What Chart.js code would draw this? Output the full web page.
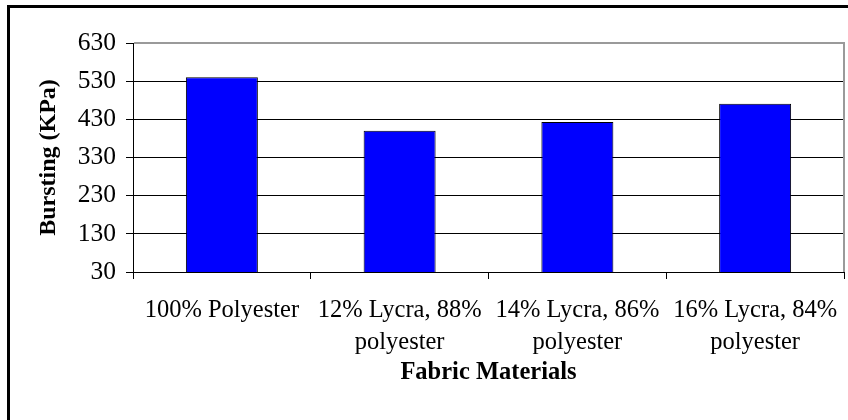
<!DOCTYPE html>
<html>
<head>
<meta charset="utf-8">
<script src="https://cdn.jsdelivr.net/npm/chart.js@4"></script>
<style>
  html, body { margin: 0; padding: 0; background: #fff; }
  #wrap { width: 848px; height: 420px; }
</style>
</head>
<body>
<div id="wrap"><canvas id="myChart" width="848" height="420"></canvas></div>
<script>
// data
const categories = [
  '100% Polyester',
  ['12% Lycra, 88%', 'polyester'],
  ['14% Lycra, 86%', 'polyester'],
  ['16% Lycra, 84%', 'polyester']
];
const bursting = [540, 400, 423, 471];
const yTicks = [30, 130, 230, 330, 430, 530, 630];

const serif = 'Liberation Serif, Times New Roman, serif';

// white page + black frame, and the grey plot-area border (top / right)
const framePlugin = {
  id: 'frame',
  beforeDraw(chart) {
    const ctx = chart.ctx;
    ctx.save();
    ctx.fillStyle = '#fff';
    ctx.fillRect(0, 0, chart.width, chart.height);
    ctx.strokeStyle = '#000';
    ctx.lineWidth = 3;
    ctx.strokeRect(8.5, 6.5, 900, 500);
    ctx.restore();
  },
  afterDraw(chart) {
    const a = chart.chartArea;
    const ctx = chart.ctx;
    ctx.save();
    ctx.strokeStyle = '#9a9a9a';
    ctx.lineWidth = 2;
    ctx.beginPath();
    ctx.moveTo(a.left + 1, a.top);
    ctx.lineTo(a.right, a.top);
    ctx.lineTo(a.right, a.bottom);
    ctx.stroke();
    ctx.restore();
  }
};

const ctx1 = document.getElementById('myChart').getContext('2d');
new Chart(ctx1, {
  type: 'bar',
  data: {
    labels: categories,
    datasets: [{
      label: 'Bursting',
      data: bursting,
      backgroundColor: '#0000ff',
      borderColor: '#000',
      borderWidth: 1,
      barPercentage: 0.405,
      categoryPercentage: 1
    }]
  },
  options: {
    responsive: false,
    animation: false,
    layout: { padding: { left: 8, top: 43, right: 4, bottom: 0 } },
    plugins: {
      legend: { display: false },
      tooltip: { enabled: false }
    },
    scales: {
      x: {
        afterFit: (s) => {
          s.height = 148;
          s.paddingLeft = 0;
          s.paddingRight = 0;
        },
        grid: {
          offset: true,
          drawOnChartArea: false,
          color: '#000',
          tickLength: 7
        },
        border: { color: '#000', width: 1 },
        ticks: {
          color: '#000',
          padding: 15,
          maxRotation: 0,
          autoSkip: false,
          font: { family: serif, size: 24.5, lineHeight: 1.32 }
        },
        title: {
          display: true,
          text: 'Fabric Materials',
          color: '#000',
          padding: { top: 0, bottom: 33 },
          font: { family: serif, size: 24.5, weight: 'bold' }
        }
      },
      y: {
        min: 30,
        max: 630,
        afterFit: (s) => { s.width = 125; },
        afterBuildTicks: (s) => { s.ticks = yTicks.map(v => ({ value: v })); },
        grid: {
          color: (c) => (c.tick && c.tick.value === 630 ? '#9a9a9a' : '#000'),
          tickColor: '#000',
          tickLength: 7
        },
        border: { color: '#000', width: 1 },
        ticks: {
          color: '#000',
          padding: 10,
          font: { family: serif, size: 25.5 }
        },
        title: {
          display: true,
          text: 'Bursting (KPa)',
          color: '#000',
          padding: { top: 26, bottom: 0 },
          font: { family: serif, size: 24, weight: 'bold' }
        }
      }
    }
  },
  plugins: [framePlugin]
});
</script>
</body>
</html>
